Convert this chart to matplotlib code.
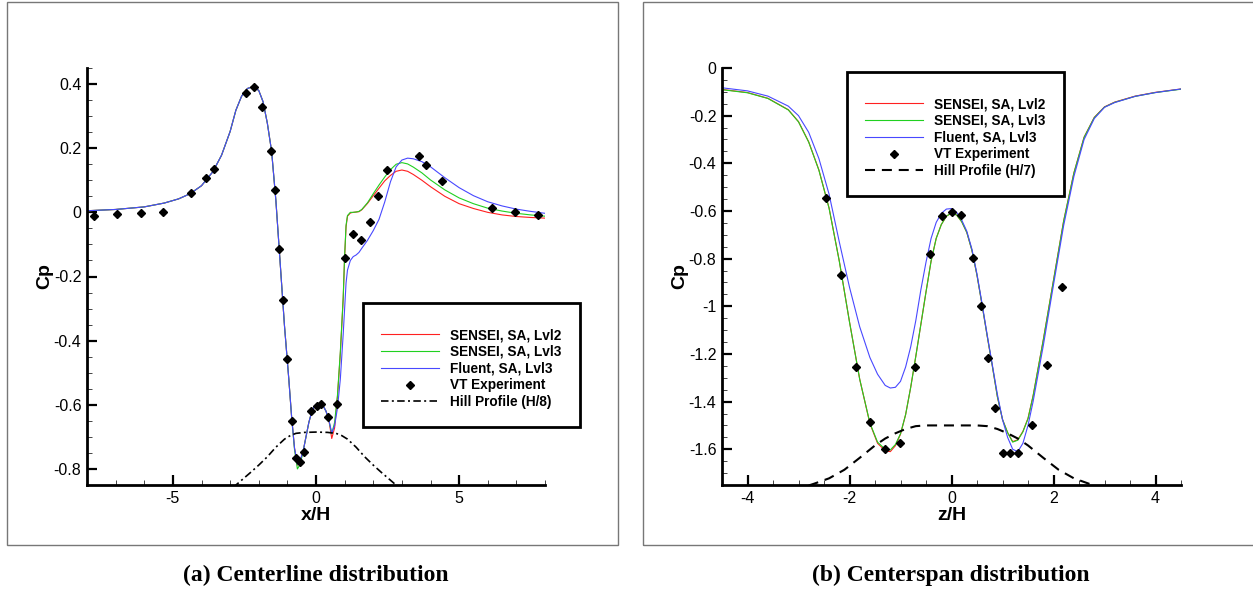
import matplotlib
matplotlib.use("Agg")
import matplotlib.pyplot as plt
from matplotlib.ticker import MultipleLocator, FuncFormatter
from matplotlib.patches import Rectangle

plt.rcParams['axes.unicode_minus'] = False
plt.rcParams['font.family'] = ['Liberation Sans', 'DejaVu Sans']

# ---------------- (a) Centerline distribution ----------------
x_cl = [-8.0, -7.0, -6.0, -5.3, -4.8, -4.4, -4.0, -3.6, -3.3, -3.0, -2.8, -2.6, -2.4, -2.2,
        -2.0, -1.85, -1.7, -1.55, -1.4, -1.25, -1.1, -0.95, -0.85, -0.75, -0.65, -0.55,
        -0.45, -0.35, -0.25, -0.15, -0.05, 0.05, 0.15, 0.25, 0.35, 0.45, 0.55, 0.65, 0.75,
        0.85, 0.95, 1.0, 1.05, 1.1, 1.2, 1.3, 1.4, 1.5, 1.6, 1.8, 2.0, 2.2, 2.4, 2.6, 2.8,
        3.0, 3.2, 3.4, 3.7, 4.0, 4.5, 5.0, 5.5, 6.0, 6.5, 7.0, 7.5, 8.0]
cp_cl_sensei_l2 = [0.005, 0.009, 0.017, 0.029, 0.042, 0.058, 0.083, 0.127, 0.178, 0.252, 0.318,
                   0.362, 0.386, 0.392, 0.380, 0.345, 0.278, 0.190, 0.035, -0.160, -0.355,
                   -0.520, -0.640, -0.735, -0.788, -0.775, -0.745, -0.700, -0.655, -0.622,
                   -0.604, -0.597, -0.597, -0.603, -0.620, -0.648, -0.705, -0.672, -0.575,
                   -0.440, -0.270, -0.140, -0.045, -0.012, -0.002, 0.000, 0.001, 0.002, 0.008,
                   0.028, 0.052, 0.075, 0.098, 0.115, 0.128, 0.132, 0.128, 0.118, 0.100,
                   0.080, 0.050, 0.027, 0.012, 0.000, -0.008, -0.013, -0.016, -0.018]
cp_cl_sensei_l3 = [0.005, 0.009, 0.017, 0.029, 0.042, 0.058, 0.083, 0.127, 0.178, 0.252, 0.318,
                   0.362, 0.386, 0.392, 0.380, 0.345, 0.278, 0.190, 0.035, -0.160, -0.355,
                   -0.520, -0.640, -0.740, -0.800, -0.785, -0.745, -0.700, -0.655, -0.622,
                   -0.604, -0.597, -0.597, -0.603, -0.620, -0.648, -0.690, -0.655, -0.570,
                   -0.435, -0.265, -0.135, -0.040, -0.010, 0.000, 0.000, 0.001, 0.003, 0.009,
                   0.030, 0.058, 0.085, 0.110, 0.133, 0.150, 0.155, 0.151, 0.141, 0.123,
                   0.101, 0.070, 0.045, 0.027, 0.013, 0.004, -0.003, -0.008, -0.012]
cp_cl_fluent_l3 = [0.005, 0.009, 0.017, 0.029, 0.042, 0.058, 0.083, 0.127, 0.178, 0.252, 0.318,
                   0.362, 0.386, 0.392, 0.380, 0.345, 0.278, 0.190, 0.035, -0.160, -0.355,
                   -0.520, -0.640, -0.735, -0.785, -0.772, -0.745, -0.700, -0.655, -0.622,
                   -0.604, -0.597, -0.597, -0.603, -0.620, -0.648, -0.688, -0.665, -0.610,
                   -0.520, -0.380, -0.300, -0.220, -0.180, -0.150, -0.138, -0.133, -0.125,
                   -0.112, -0.087, -0.057, -0.022, 0.032, 0.095, 0.142, 0.163, 0.169, 0.167,
                   0.158, 0.142, 0.108, 0.077, 0.052, 0.033, 0.020, 0.010, 0.003, -0.003]
x_cl_exp = [-7.77, -6.96, -6.13, -5.33, -4.36, -3.85, -3.55, -2.46, -2.17, -1.87, -1.58, -1.44,
            -1.29, -1.16, -1.00, -0.84, -0.71, -0.55, -0.41, -0.17, 0.03, 0.19, 0.43, 0.72,
            1.01, 1.30, 1.58, 1.89, 2.18, 2.48, 3.60, 3.84, 4.40, 6.14, 6.96, 7.77]
cp_cl_exp = [-0.010, -0.004, -0.002, 0.001, 0.061, 0.106, 0.134, 0.373, 0.391, 0.329, 0.191,
             0.071, -0.113, -0.274, -0.458, -0.650, -0.766, -0.779, -0.746, -0.618, -0.604,
             -0.596, -0.638, -0.597, -0.143, -0.068, -0.085, -0.029, 0.050, 0.133, 0.176,
             0.149, 0.098, 0.014, 0.001, -0.009]
x_cl_hill = [-2.9, -2.6, -2.3, -2.0, -1.7, -1.4, -1.1, -0.9, -0.7, -0.4, 0.0, 0.4, 0.7, 0.9,
             1.1, 1.4, 1.7, 2.0, 2.3, 2.6, 2.9]
cp_cl_hill = [-0.858, -0.835, -0.812, -0.788, -0.762, -0.732, -0.707, -0.696, -0.689, -0.686,
              -0.685, -0.686, -0.689, -0.696, -0.707, -0.732, -0.762, -0.788, -0.812, -0.835,
              -0.858]

# ---------------- (b) Centerspan distribution ----------------
z_cs = [-4.5, -4.0, -3.6, -3.2, -3.0, -2.8, -2.6, -2.4, -2.2, -2.0, -1.8, -1.6, -1.45, -1.3,
        -1.2, -1.1, -1.0, -0.9, -0.8, -0.7, -0.6, -0.5, -0.4, -0.3, -0.2, -0.1, 0.0, 0.1, 0.2,
        0.3, 0.4, 0.5, 0.6, 0.7, 0.8, 0.9, 1.0, 1.1, 1.2, 1.3, 1.4, 1.5, 1.6, 1.8, 2.0, 2.2,
        2.4, 2.6, 2.8, 3.0, 3.2, 3.6, 4.0, 4.5]
cp_cs_sensei_l2 = [-0.090, -0.103, -0.127, -0.175, -0.225, -0.310, -0.428, -0.588, -0.810,
                   -1.065, -1.306, -1.492, -1.575, -1.606, -1.610, -1.585, -1.537, -1.455,
                   -1.340, -1.210, -1.075, -0.940, -0.810, -0.715, -0.657, -0.622, -0.608,
                   -0.617, -0.645, -0.690, -0.765, -0.870, -0.995, -1.125, -1.250, -1.380,
                   -1.475, -1.530, -1.568, -1.560, -1.525, -1.470, -1.375, -1.140, -0.890,
                   -0.640, -0.440, -0.290, -0.207, -0.163, -0.143, -0.118, -0.102, -0.088]
cp_cs_sensei_l3 = [-0.091, -0.104, -0.128, -0.176, -0.226, -0.311, -0.429, -0.589, -0.811,
                   -1.066, -1.306, -1.490, -1.570, -1.600, -1.603, -1.580, -1.535, -1.455,
                   -1.340, -1.210, -1.075, -0.940, -0.810, -0.715, -0.657, -0.622, -0.608,
                   -0.617, -0.645, -0.690, -0.765, -0.870, -0.995, -1.125, -1.250, -1.380,
                   -1.475, -1.530, -1.570, -1.562, -1.527, -1.472, -1.377, -1.142, -0.892,
                   -0.642, -0.441, -0.291, -0.208, -0.164, -0.144, -0.119, -0.103, -0.089]
cp_cs_fluent_l3 = [-0.083, -0.096, -0.118, -0.160, -0.200, -0.270, -0.380, -0.530, -0.730,
                   -0.920, -1.086, -1.215, -1.285, -1.332, -1.343, -1.340, -1.315, -1.255,
                   -1.170, -1.060, -0.930, -0.815, -0.715, -0.648, -0.610, -0.592, -0.590,
                   -0.605, -0.638, -0.685, -0.760, -0.865, -0.990, -1.120, -1.245, -1.370,
                   -1.475, -1.550, -1.600, -1.610, -1.575, -1.500, -1.400, -1.165, -0.910,
                   -0.660, -0.455, -0.300, -0.212, -0.165, -0.145, -0.119, -0.103, -0.088]
z_cs_exp = [-2.47, -2.17, -1.88, -1.60, -1.30, -1.01, -0.72, -0.43, -0.18, 0.01, 0.18, 0.42,
            0.57, 0.71, 0.86, 1.00, 1.15, 1.30, 1.58, 1.87, 2.17]
cp_cs_exp = [-0.546, -0.870, -1.256, -1.487, -1.597, -1.573, -1.256, -0.782, -0.623, -0.603,
             -0.617, -0.798, -0.999, -1.219, -1.427, -1.617, -1.617, -1.617, -1.498, -1.246,
             -0.919]
z_cs_hill = [-2.8, -2.7, -2.4, -2.1, -1.8, -1.5, -1.3, -1.1, -0.9, -0.7, -0.5, 0.0, 0.5, 0.7,
             0.9, 1.1, 1.3, 1.5, 1.8, 2.1, 2.4, 2.7, 2.8]
cp_cs_hill = [-1.752, -1.745, -1.722, -1.686, -1.636, -1.584, -1.555, -1.533, -1.515, -1.503,
              -1.500, -1.500, -1.500, -1.503, -1.515, -1.533, -1.555, -1.584, -1.636, -1.686,
              -1.722, -1.745, -1.752]

labels = ["SENSEI, SA, Lvl2", "SENSEI, SA, Lvl3", "Fluent, SA, Lvl3", "VT Experiment"]
hill_labels = ["Hill Profile (H/8)", "Hill Profile (H/7)"]
captions = ["(a) Centerline distribution", "(b) Centerspan distribution"]

W, H = 1253, 589
fig = plt.figure(figsize=(W / 100, H / 100), dpi=100)

# outer frames
for (x0, y0, x1, y1) in [(7, 2, 618, 545), (643, 2, 1260, 545)]:
    fig.patches.append(Rectangle((x0 / W, 1 - y1 / H), (x1 - x0) / W, (y1 - y0) / H,
                                 transform=fig.transFigure, fill=False,
                                 edgecolor='#777777', linewidth=1.0))

ax1 = fig.add_axes([87 / W, 1 - 485 / H, (545 - 87) / W, (485 - 68) / H])
ax2 = fig.add_axes([722 / W, 1 - 485 / H, (1181 - 722) / W, (485 - 68) / H])

c_red, c_green, c_blue = '#ff2020', '#20d020', '#4848ff'
lw = 0.8

def fmt(v, pos):
    if abs(v) < 1e-9:
        return "0"
    return "%g" % round(v, 3)

def style(ax):
    for s in ['top', 'right']:
        ax.spines[s].set_visible(False)
    for s in ['left', 'bottom']:
        ax.spines[s].set_linewidth(2.0)
    ax.tick_params(which='major', direction='in', length=7, width=1.6,
                   labelsize=11.5, pad=4, top=False, right=False)
    ax.tick_params(which='minor', direction='in', length=3.5, width=0.7,
                   color='#444444', top=False, right=False)
    ax.yaxis.set_major_formatter(FuncFormatter(fmt))
    ax.xaxis.set_major_formatter(FuncFormatter(fmt))

# --- panel a
ax1.plot(x_cl, cp_cl_sensei_l2, color=c_red, lw=lw, label=labels[0])
ax1.plot(x_cl, cp_cl_sensei_l3, color=c_green, lw=lw, label=labels[1])
ax1.plot(x_cl, cp_cl_fluent_l3, color=c_blue, lw=lw, label=labels[2])
ax1.plot(x_cl_exp, cp_cl_exp, linestyle='none', marker='D', ms=4.5, color='black',
         label=labels[3])
ax1.plot(x_cl_hill, cp_cl_hill, color='black', lw=1.2, dashes=(4.5, 2, 1.2, 2),
         label=hill_labels[0])
ax1.set_xlim(-8, 8)
ax1.set_ylim(-0.85, 0.45)
ax1.xaxis.set_major_locator(MultipleLocator(5))
ax1.xaxis.set_minor_locator(MultipleLocator(1))
ax1.yaxis.set_major_locator(MultipleLocator(0.2))
ax1.yaxis.set_minor_locator(MultipleLocator(0.05))
style(ax1)
ax1.set_xlabel("x/H", fontsize=14, fontweight='bold', labelpad=1)
ax1.set_ylabel("Cp", fontsize=14, fontweight='bold', labelpad=0)

# --- panel b
ax2.plot(z_cs, cp_cs_sensei_l2, color=c_red, lw=lw, label=labels[0])
ax2.plot(z_cs, cp_cs_sensei_l3, color=c_green, lw=lw, label=labels[1])
ax2.plot(z_cs, cp_cs_fluent_l3, color=c_blue, lw=lw, label=labels[2])
ax2.plot(z_cs_exp, cp_cs_exp, linestyle='none', marker='D', ms=4.5, color='black',
         label=labels[3])
ax2.plot(z_cs_hill, cp_cs_hill, color='black', lw=1.5, dashes=(4.8, 3.3),
         label=hill_labels[1])
ax2.set_xlim(-4.5, 4.5)
ax2.set_ylim(-1.75, 0)
ax2.xaxis.set_major_locator(MultipleLocator(2))
ax2.xaxis.set_minor_locator(MultipleLocator(0.5))
ax2.yaxis.set_major_locator(MultipleLocator(0.2))
ax2.yaxis.set_minor_locator(MultipleLocator(0.05))
style(ax2)
ax2.set_xlabel("z/H", fontsize=14, fontweight='bold', labelpad=1)
ax2.set_ylabel("Cp", fontsize=14, fontweight='bold', labelpad=0)

# legends
for ax, (lx, ly) in [(ax1, (363, 303)), (ax2, (847, 72))]:
    leg = ax.legend(loc='upper left', bbox_to_anchor=(lx / W, 1 - ly / H),
                    bbox_transform=fig.transFigure, borderaxespad=0,
                    frameon=True, fancybox=False, numpoints=1,
                    handlelength=4.2, handletextpad=0.85, borderpad=1.35,
                    labelspacing=0.2, prop={'weight': 'bold', 'size': 9.8},
                    title=" ", title_fontsize=2)
    fr = leg.get_frame()
    fr.set_edgecolor('black')
    fr.set_linewidth(2.0)
    fr.set_alpha(1)

# captions
for cx, cap in zip([316, 951], captions):
    fig.text(cx / W, 1 - 575 / H, cap, ha='center', va='center',
             fontsize=17, fontweight='bold', family=['Liberation Serif', 'DejaVu Serif'])

fig.savefig("out.png", dpi=100)
